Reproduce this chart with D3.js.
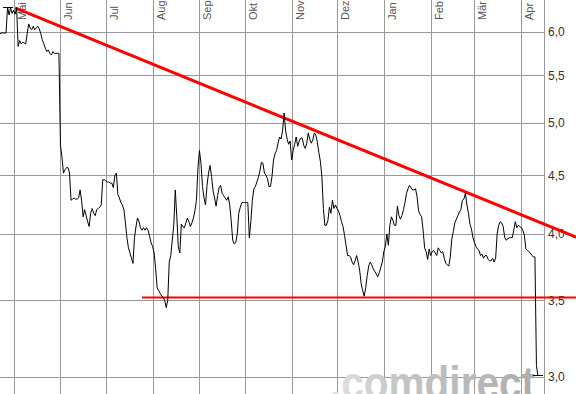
<!DOCTYPE html>
<html>
<head>
<meta charset="utf-8">
<script src="https://cdn.jsdelivr.net/npm/d3@7"></script>
<style>
  body { margin: 0; background: #fff; }
  svg { display: block; }
  .grid line { stroke: #999; stroke-width: 1; shape-rendering: crispEdges; }
  .achse text { font: 12px "Liberation Sans", Arial, sans-serif; fill: #333; }
  .monat { font: 11px "Liberation Sans", Arial, sans-serif; fill: #555; }
</style>
</head>
<body>
<svg></svg>
<script>
// Tageskurse (ein Wert pro Kalendertag ab startTag)
const startTag = "2007-04-22";
const endeTag = "2008-04-16";
const kurs = [
  5.98, 5.99, 5.99, 5.99, 5.99, 6.31, 6.21, 6.30, 6.23, 6.27,
  6.22, 6.30, 5.83, 5.90, 5.86, 5.88, 5.87, 5.86, 5.98, 6.10,
  6.05, 6.03, 6.07, 6.03, 6.05, 6.07, 6.04, 5.98, 5.91, 5.86,
  5.81, 5.77, 5.79, 5.75, 5.73, 5.77, 5.75, 5.75, 5.75, 5.75,
  4.78, 4.67, 4.52, 4.55, 4.57, 4.57, 4.52, 4.28, 4.29, 4.30,
  4.29, 4.29, 4.30, 4.37, 4.28, 4.14, 4.20, 4.15, 4.10, 4.06,
  4.17, 4.21, 4.17, 4.15, 4.20, 4.21, 4.22, 4.24, 4.46, 4.46,
  4.45, 4.44, 4.44, 4.43, 4.43, 4.39, 4.50, 4.52, 4.33, 4.30,
  4.26, 4.24, 4.20, 4.09, 3.97, 3.89, 3.85, 3.81, 3.77, 3.97,
  4.06, 4.13, 4.10, 4.05, 4.03, 4.05, 4.03, 4.05, 4.03, 3.98,
  3.93, 3.90, 3.85, 3.73, 3.59, 3.57, 3.55, 3.53, 3.52, 3.50,
  3.45, 3.50, 3.78, 3.83, 3.95, 4.07, 4.37, 4.14, 3.90, 3.85,
  4.08, 4.06, 4.05, 4.09, 4.13, 4.10, 4.06, 4.09, 4.13, 4.19,
  4.28, 4.57, 4.73, 4.61, 4.40, 4.30, 4.24, 4.41, 4.52, 4.59,
  4.49, 4.36, 4.30, 4.23, 4.32, 4.39, 4.41, 4.34, 4.32, 4.30,
  4.28, 4.31, 4.24, 4.11, 3.95, 3.92, 3.93, 4.00, 4.17, 4.22,
  4.26, 4.26, 4.26, 4.26, 4.26, 3.97, 4.10, 4.28, 4.38, 4.40,
  4.44, 4.48, 4.54, 4.62, 4.61, 4.52, 4.50, 4.47, 4.40, 4.40,
  4.49, 4.64, 4.70, 4.73, 4.80, 4.86, 4.84, 4.92, 5.10, 4.92,
  4.84, 4.79, 4.82, 4.64, 4.73, 4.79, 4.86, 4.77, 4.82, 4.85,
  4.85, 4.78, 4.75, 4.80, 4.90, 4.84, 4.80, 4.83, 4.90, 4.88,
  4.81, 4.71, 4.63, 4.49, 4.21, 4.07, 4.07, 4.11, 4.22, 4.17,
  4.28, 4.21, 4.24, 4.21, 4.19, 4.15, 4.10, 4.06, 3.99, 3.91,
  3.83, 3.83, 3.82, 3.78, 3.76, 3.79, 3.83, 3.78, 3.72, 3.62,
  3.57, 3.53, 3.59, 3.68, 3.75, 3.78, 3.76, 3.73, 3.71, 3.69,
  3.67, 3.70, 3.74, 3.78, 3.86, 3.90, 4.00, 3.91, 4.07, 4.14,
  4.11, 4.07, 4.07, 4.23, 4.15, 4.12, 4.15, 4.20, 4.26, 4.34,
  4.38, 4.41, 4.39, 4.37, 4.37, 4.38, 4.31, 4.19, 4.16, 4.14,
  4.03, 3.89, 3.86, 3.80, 3.88, 3.83, 3.86, 3.87, 3.85, 3.83,
  3.89, 3.87, 3.85, 3.86, 3.81, 3.77, 3.76, 3.75, 3.82, 3.96,
  4.02, 4.09, 4.12, 4.15, 4.18, 4.20, 4.28, 4.29, 4.34, 4.24,
  4.17, 4.08, 4.04, 3.97, 3.93, 3.90, 3.88, 3.87, 3.83, 3.84,
  3.81, 3.83, 3.83, 3.80, 3.79, 3.79, 3.81, 3.78, 3.81, 4.00,
  4.07, 4.10, 4.09, 4.06, 3.97, 3.95, 3.96, 3.97, 3.97, 3.97,
  4.03, 4.10, 4.05, 4.07, 4.06, 4.05, 4.03, 3.99, 3.88, 3.87,
  3.86, 3.85, 3.83, 3.82, 3.82, 3.07, 3.01
];
const monate = ["Mai", "Jun", "Jul", "Aug", "Sep", "Okt", "Nov", "Dez", "Jan", "Feb", "Mär", "Apr"];
const yTicks = [3.0, 3.5, 4.0, 4.5, 5.0, 5.5, 6.0];
// Trendlinien
const trendOben = [["2007-05-02", 6.30], ["2008-05-08", 3.97]];
const unterstuetzung = [["2007-07-25", 3.52], ["2008-05-08", 3.52]];

const parseDay = d3.timeParse("%Y-%m-%d");

let svg = d3.select("svg").attr("width", 576).attr("height", 394),
    width = 544,
    height = 394,
    t0 = parseDay(startTag);

let data = kurs.map(function(v, i) { return {date: d3.timeDay.offset(t0, i), value: v}; });

let x = d3.scaleTime().domain([t0, parseDay(endeTag)]).range([0, width]),
    y = d3.scaleLog().domain([2.9, 6.4]).range([height, 0]);

svg.append("rect").attr("width", 576).attr("height", 394).attr("fill", "#fff");

let defs = svg.append("defs");
let grad = defs.append("linearGradient").attr("id", "wm").attr("x1", 0).attr("x2", 1).attr("y1", 0).attr("y2", 0);
grad.append("stop").attr("offset", "0%").attr("stop-color", "#e2e2e2");
grad.append("stop").attr("offset", "35%").attr("stop-color", "#c4c4c4");
grad.append("stop").attr("offset", "100%").attr("stop-color", "#adadad");

// Gitter
let grid = svg.append("g").attr("class", "grid");
let monatsTicks = x.ticks(d3.timeMonth.every(1));

grid.selectAll(".vx")
    .data(monatsTicks)
    .enter().append("line")
    .attr("x1", function(d) { return Math.round(x(d)) + 0.5; })
    .attr("x2", function(d) { return Math.round(x(d)) + 0.5; })
    .attr("y1", 0)
    .attr("y2", height);

grid.selectAll(".hy")
    .data(yTicks)
    .enter().append("line")
    .attr("x1", 0)
    .attr("x2", width)
    .attr("y1", function(d) { return Math.round(y(d)) + 0.5; })
    .attr("y2", function(d) { return Math.round(y(d)) + 0.5; });

grid.append("line")
    .attr("x1", width + 0.5).attr("x2", width + 0.5)
    .attr("y1", 0).attr("y2", height);

// Monatsnamen
svg.selectAll(".monat")
    .data(monatsTicks)
    .enter().append("text")
    .attr("class", "monat")
    .attr("transform", function(d) { return "translate(" + (Math.round(x(d)) + 12) + ",20) rotate(-90)"; })
    .text(function(d, i) { return monate[i]; });

// Achse rechts
let fmt = function(v) { return d3.format(".1f")(v).replace(".", ","); };
svg.append("g").attr("class", "achse")
    .selectAll("text")
    .data(yTicks)
    .enter().append("text")
    .attr("x", width + 4)
    .attr("y", function(d) { return y(d); })
    .attr("dy", "0.35em")
    .text(fmt);

// Wasserzeichen (unten angeschnitten wie im Original)
svg.append("text")
    .attr("x", 330)
    .attr("y", 399)
    .attr("fill", "url(#wm)")
    .attr("textLength", 205)
    .attr("lengthAdjust", "spacingAndGlyphs")
    .style("font", "bold 47px 'Liberation Sans', Arial, sans-serif")
    .text(".comdirect");

// rote Linien
let seg = d3.line()
    .x(function(d) { return x(parseDay(d[0])); })
    .y(function(d) { return y(d[1]); });

svg.append("path")
    .attr("d", seg(trendOben))
    .attr("fill", "none")
    .attr("stroke", "#ff0000")
    .attr("stroke-width", 3);

svg.append("path")
    .attr("d", seg(unterstuetzung))
    .attr("fill", "none")
    .attr("stroke", "#ff0000")
    .attr("stroke-width", 2);

// Kurslinie
let line = d3.line()
    .x(function(d) { return x(d.date); })
    .y(function(d) { return y(d.value); });

svg.append("path")
    .datum(data)
    .attr("d", line)
    .attr("fill", "none")
    .attr("stroke", "#000")
    .attr("stroke-width", 1);

// Hoch / Tief Marken
let hoch = data[d3.maxIndex(data, function(d) { return d.value; })],
    tief = data[d3.minIndex(data, function(d) { return d.value; })];

svg.selectAll(".marke")
    .data([hoch, tief])
    .enter().append("line")
    .attr("x1", function(d) { return x(d.date) - 5; })
    .attr("x2", function(d) { return x(d.date) + 5; })
    .attr("y1", function(d) { return Math.round(y(d.value)) + 0.5; })
    .attr("y2", function(d) { return Math.round(y(d.value)) + 0.5; })
    .attr("stroke", "#000")
    .attr("shape-rendering", "crispEdges");
</script>
</body>
</html>
